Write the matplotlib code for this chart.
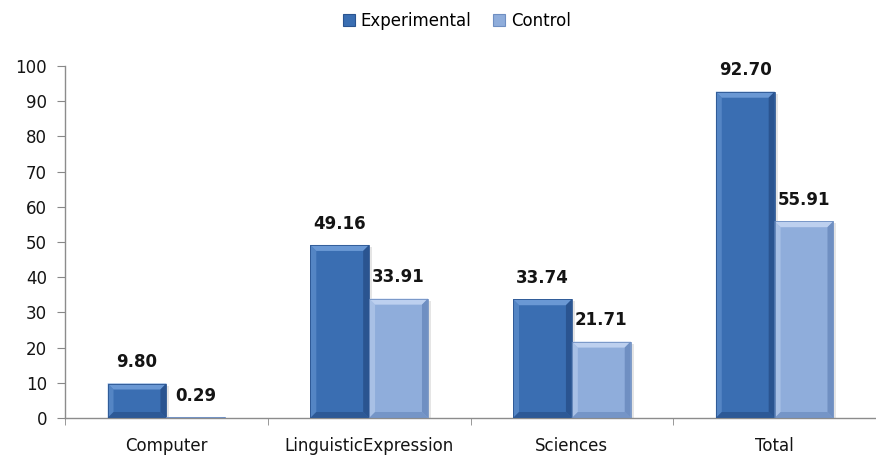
import numpy as np
import matplotlib
matplotlib.use("Agg")
import matplotlib.pyplot as plt
from matplotlib.patches import Rectangle, Polygon

categories = ["Computer", "LinguisticExpression", "Sciences", "Total"]
experimental = [9.80, 49.16, 33.74, 92.70]
control = [0.29, 33.91, 21.71, 55.91]
series_names = ["Experimental", "Control"]

# face, light bevel, dark bevel
PALETTE = {
    "Experimental": ("#3a6eb2", "#6a98d4", "#2a5490"),
    "Control": ("#8faddb", "#bdd0ef", "#6f8fc2"),
}
BAR_W = 0.29
FONT = "DejaVu Sans"

fig = plt.figure(figsize=(8.76, 4.58), dpi=100)
ax = fig.add_axes([65 / 876, 40 / 458, 811 / 876, 352 / 458])

# pixel -> data scale for the bevel sizes
px_x = 4.0 / 818
px_y = 100.0 / 352


def bevel_bar(x0, h, cols):
    face, light, dark = cols
    bx = 6 * px_x
    by = min(6 * px_y, h / 2)
    x1 = x0 + BAR_W
    ax.add_patch(Rectangle((x0, 0), BAR_W, h, facecolor=face, edgecolor="none", zorder=2))
    # top bevel
    ax.add_patch(Polygon([(x0, h), (x1, h), (x1 - bx, h - by), (x0 + bx, h - by)],
                         facecolor=light, edgecolor="none", zorder=3))
    # left bevel
    ax.add_patch(Polygon([(x0, 0), (x0, h), (x0 + bx, h - by), (x0 + bx, by)],
                         facecolor=light, edgecolor="none", alpha=0.55, zorder=3))
    # right bevel
    ax.add_patch(Polygon([(x1, 0), (x1, h), (x1 - bx, h - by), (x1 - bx, by)],
                         facecolor=dark, edgecolor="none", zorder=3))
    # bottom bevel
    ax.add_patch(Polygon([(x0, 0), (x1, 0), (x1 - bx, by), (x0 + bx, by)],
                         facecolor=dark, edgecolor="none", alpha=0.8, zorder=3))
    ax.add_patch(Rectangle((x0, 0), BAR_W, h, facecolor="none", edgecolor=dark,
                           linewidth=0.6, zorder=4))
    # soft drop shadow on the right side
    ax.add_patch(Rectangle((x1, 0), 3 * px_x, max(h - 2 * px_y, 0), facecolor="#000000",
                           alpha=0.10, edgecolor="none", zorder=1))


x = np.arange(len(categories))
for offs, name, vals in [(-BAR_W, "Experimental", experimental), (0, "Control", control)]:
    for xi, v in zip(x, vals):
        bevel_bar(xi + offs, v, PALETTE[name])
        ax.text(xi + offs + BAR_W / 2, v + 3.5, f"{v:.2f}", ha="center", va="bottom",
                fontsize=12, fontweight="bold", family=FONT, color="#141414")

ax.set_xlim(-0.5, 3.5 - 7 / 204.5)
ax.set_ylim(0, 100)
ax.set_yticks(np.arange(0, 101, 10))
ax.set_xticks(x)
ax.set_xticklabels(categories)
ax.set_xticks(np.arange(-0.5, 3.6, 1), minor=True)
ax.tick_params(axis="x", which="major", length=0, pad=14)
ax.tick_params(axis="x", which="minor", length=5, color="#888888", direction="out")
ax.tick_params(axis="y", length=6, color="#888888", direction="out", pad=7)
for lab in ax.get_xticklabels() + ax.get_yticklabels():
    lab.set_fontsize(12)
    lab.set_family(FONT)
    lab.set_color("#141414")

for s in ["top", "right"]:
    ax.spines[s].set_visible(False)
for s in ["left", "bottom"]:
    ax.spines[s].set_color("#8c8c8c")
    ax.spines[s].set_linewidth(1.0)

handles = [Rectangle((0, 0), 1, 1, facecolor=PALETTE[n][0], edgecolor=PALETTE[n][2], linewidth=0.8)
           for n in series_names]
fig.legend(handles, series_names, loc="center", bbox_to_anchor=(457 / 876, 1 - 21 / 458),
           ncol=2, frameon=False, handlelength=0.7, handleheight=0.7, handletextpad=0.35,
           columnspacing=1.3, prop={"family": FONT, "size": 12})

fig.savefig("out.png", dpi=100)
